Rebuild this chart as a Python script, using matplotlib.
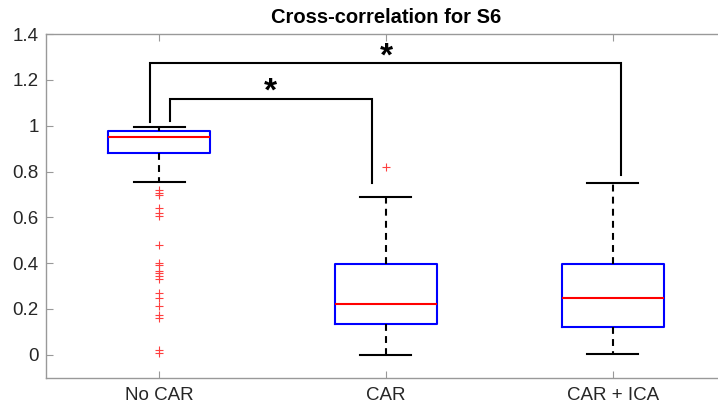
import matplotlib
matplotlib.use("Agg")
import matplotlib.pyplot as plt

plt.rcParams['font.family'] = ['Liberation Sans', 'DejaVu Sans']

# data
groups = ['No CAR', 'CAR', 'CAR + ICA']
q1 = [0.883, 0.135, 0.122]
med = [0.952, 0.222, 0.247]
q3 = [0.978, 0.395, 0.395]
whislo = [0.756, 0.0, 0.003]
whishi = [0.996, 0.688, 0.751]
fliers = [
    [0.72, 0.706, 0.698, 0.640, 0.618, 0.606, 0.48, 0.403, 0.392,
     0.368, 0.356, 0.345, 0.331, 0.272, 0.247, 0.211, 0.174, 0.160,
     0.022, 0.010],
    [0.821],
    [],
]

yticks = [0, 0.2, 0.4, 0.6, 0.8, 1.0, 1.2, 1.4]
ytick_labels = ['0', '0.2', '0.4', '0.6', '0.8', '1', '1.2', '1.4']

# significance brackets: (x_left, x_right, y_top, y_left_end, y_right_end, star_x, star_y)
brackets = [
    (1.048, 1.938, 1.116, 1.02, 0.749, 1.49, 1.145),
    (0.96, 3.035, 1.272, 1.017, 0.785, 2.0, 1.30),
]

stats = []
for i in range(len(groups)):
    stats.append(dict(q1=q1[i], med=med[i], q3=q3[i], whislo=whislo[i],
                      whishi=whishi[i], fliers=fliers[i]))

fig = plt.figure(figsize=(7.18, 4.09), dpi=100)
ax = fig.add_axes([0.0635, 0.0765, 0.948, 0.840])

ax.bxp(stats, positions=[1, 2, 3], widths=0.45, showfliers=True,
       boxprops=dict(color='#0000ff', linewidth=1.5),
       medianprops=dict(color='#ff0000', linewidth=1.5),
       whiskerprops=dict(color='#000000', linewidth=1.5, linestyle=(0, (3.3, 2.5))),
       capprops=dict(color='#000000', linewidth=1.5),
       capwidths=0.225,
       flierprops=dict(marker='+', color='#ff4040', markeredgecolor='#ff4040',
                       markersize=5.5, markeredgewidth=0.8, linestyle='none'))

for xl, xr, yt, yl, yr, sx, sy in brackets:
    ax.plot([xl, xl, xr, xr], [yl, yt, yt, yr], color='black', linewidth=1.5,
            solid_joinstyle='miter')
    ax.text(sx, sy, '*', ha='center', va='center', fontsize=24,
            fontweight='bold')

ax.set_xlim(0.5, 3.5)
ax.set_ylim(-0.1, 1.4)
ax.set_xticks([1, 2, 3])
ax.set_xticklabels(groups)
ax.set_yticks(yticks)
ax.set_yticklabels(ytick_labels)
ax.tick_params(direction='in', length=5, width=0.8, colors='#999999',
               labelcolor='#262626', labelsize=13.5, top=True, right=True)
ax.tick_params(axis='x', pad=7)
ax.tick_params(axis='y', pad=5)
for s in ax.spines.values():
    s.set_color('#999999')
    s.set_linewidth(1.0)

ax.set_title('Cross-correlation for S6', fontsize=14.5, fontweight='bold',
             pad=8)

fig.savefig('out.png', dpi=100)
